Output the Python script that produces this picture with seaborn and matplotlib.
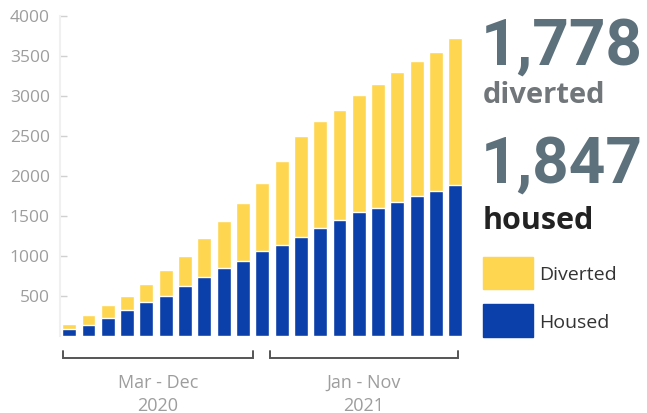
import matplotlib
matplotlib.use("Agg")
import matplotlib.pyplot as plt
import matplotlib.transforms as mtransforms
import seaborn as sns
import pandas as pd

months = ["Mar 2020", "Apr 2020", "May 2020", "Jun 2020", "Jul 2020", "Aug 2020",
          "Sep 2020", "Oct 2020", "Nov 2020", "Dec 2020",
          "Jan 2021", "Feb 2021", "Mar 2021", "Apr 2021", "May 2021", "Jun 2021",
          "Jul 2021", "Aug 2021", "Sep 2021", "Oct 2021", "Nov 2021"]
housed = [80, 130, 220, 320, 420, 495, 620, 730, 845, 930,
          1055, 1130, 1230, 1345, 1445, 1545, 1595, 1670, 1745, 1805, 1880]
diverted = [65, 125, 160, 175, 225, 325, 375, 490, 585, 725,
            850, 1050, 1265, 1335, 1375, 1460, 1550, 1625, 1685, 1740, 1840]
yticks = [500, 1000, 1500, 2000, 2500, 3000, 3500, 4000]
groups = [("Mar - Dec", "2020", 0, 9), ("Jan - Nov", "2021", 10, 20)]
total_housed_label = "1,847"
total_diverted_label = "1,778"

YELLOW = "#FED650"
BLUE = "#0B3FAA"
GRAY = "#9d9d9d"

df = pd.DataFrame({"month": months, "housed": housed, "diverted": diverted})
df["total"] = df["housed"] + df["diverted"]

sns.set_style("white")
plt.rcParams["font.family"] = ["Open Sans", "DejaVu Sans"]

W, H = 647, 414
fig = plt.figure(figsize=(W / 100, H / 100), dpi=100)
ax = fig.add_axes([59.5 / W, (H - 336.5) / H, 405.5 / W, 320 / H])

sns.barplot(data=df, x="month", y="total", color=YELLOW, saturation=1,
            width=0.72, ax=ax, order=months)
sns.barplot(data=df, x="month", y="housed", color=BLUE, saturation=1,
            width=0.72, ax=ax, order=months)

ax.set_xlim(-0.5, len(months) - 0.5)
ax.set_ylim(0, 4000)
ax.set_yticks(yticks)
ax.set_yticklabels([str(v) for v in yticks])
ax.set_xticks([])
ax.set_xlabel("")
ax.set_ylabel("")
for s in ["top", "right", "bottom"]:
    ax.spines[s].set_visible(False)
ax.spines["left"].set_color("#f0f0f0")
ax.spines["left"].set_linewidth(1.5)
ax.tick_params(axis="y", direction="in", length=5, width=1, color="#d0d0d0",
               labelsize=12.5, labelcolor=GRAY, pad=7, left=True)

trans = mtransforms.blended_transform_factory(ax.transData, ax.transAxes)
bracket_pad = [(-0.32, 0.53), (0.4, 0.14)]
for (label, year, i0, i1), (p0, p1) in zip(groups, bracket_pad):
    x0, x1 = i0 + p0, i1 + p1
    ax.plot([x0, x0, x1, x1], [-0.048, -0.070, -0.070, -0.048], transform=trans,
            color="#555555", lw=1.4, clip_on=False, solid_joinstyle="miter")
    xc = (x0 + x1) / 2
    ax.text(xc, -0.145, label, transform=trans, ha="center", va="center",
            fontsize=13, color=GRAY)
    ax.text(xc, -0.217, year, transform=trans, ha="center", va="center",
            fontsize=13, color=GRAY)

def fx(px):
    return px / W

def fy(py):
    return (H - py) / H

NUMC = "#5d717c"
fig.text(fx(481), fy(65), total_diverted_label, fontsize=46, fontweight="bold",
         color=NUMC, family=["Roboto"], ha="left", va="baseline")
fig.text(fx(483), fy(103), "diverted", fontsize=21, fontweight="bold",
         color="#70767a", ha="left", va="baseline")
fig.text(fx(481), fy(183), total_housed_label, fontsize=46, fontweight="bold",
         color=NUMC, family=["Roboto"], ha="left", va="baseline")
fig.text(fx(483), fy(229), "housed", fontsize=22, fontweight="bold",
         color="#222222", ha="left", va="baseline")

fig.patches.append(plt.Rectangle((fx(483), fy(290)), 50 / W, 32 / H,
                                 transform=fig.transFigure, color=YELLOW))
fig.patches.append(plt.Rectangle((fx(483), fy(338)), 50 / W, 33 / H,
                                 transform=fig.transFigure, color=BLUE))
fig.text(fx(539), fy(275), "Diverted", fontsize=14, color="#333333",
         ha="left", va="center")
fig.text(fx(539), fy(323), "Housed", fontsize=14, color="#333333",
         ha="left", va="center")

fig.savefig("out.png", dpi=100, facecolor="white")
